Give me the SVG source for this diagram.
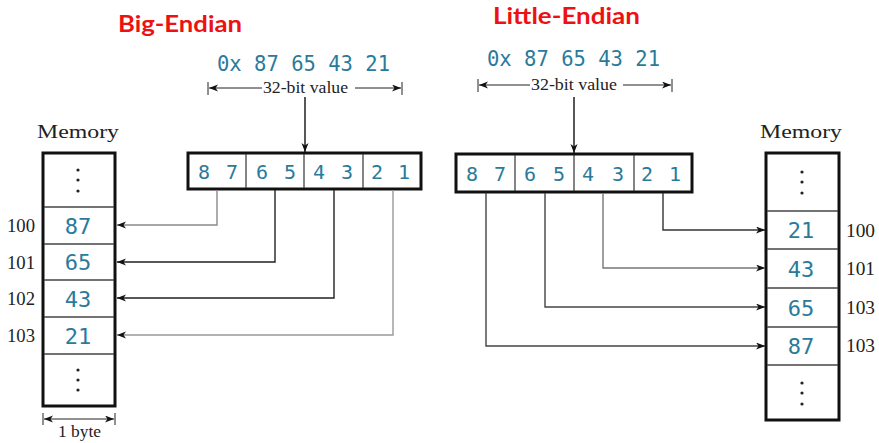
<svg xmlns="http://www.w3.org/2000/svg" width="879" height="443" viewBox="0 0 879 443">
<style>
.title{font-family:Lato,"Liberation Sans",sans-serif;font-weight:bold;font-size:23.5px;fill:#ee1111}
.mono{font-family:"DejaVu Sans Mono","Liberation Mono",monospace;fill:#2a7b9b}
.hex{font-size:20.5px}
.dig{font-size:20px;text-anchor:middle}
.val{font-size:22px;text-anchor:middle}
.serif{font-family:"Liberation Serif","DejaVu Serif",serif;fill:#222}
.frame{fill:#fff;stroke:#111;stroke-width:3}
.div{stroke:#333;stroke-width:1.2}
.row{stroke:#444;stroke-width:1.4}
.dot{fill:#222}
.conn{fill:none;stroke-width:1.4}
.dim{stroke:#222;stroke-width:1}
</style>
<defs>
<marker id="ah" markerUnits="userSpaceOnUse" markerWidth="10" markerHeight="8" refX="9" refY="3.5" orient="auto">
<path d="M0,0 L9,3.5 L0,7 L2.5,3.5 z" fill="#111"/>
</marker>
</defs>

<text class="title" x="118" y="32" textLength="124" lengthAdjust="spacingAndGlyphs">Big-Endian</text>
<text class="title" x="493" y="24" textLength="147" lengthAdjust="spacingAndGlyphs">Little-Endian</text>

<g id="value-left">
<text class="mono hex" x="217" y="71" textLength="173" lengthAdjust="spacingAndGlyphs">0x 87 65 43 21</text>
<line class="dim" x1="208" y1="82" x2="208" y2="95"/>
<line class="dim" x1="402" y1="82" x2="402" y2="95"/>
<line class="dim" x1="262" y1="88" x2="209" y2="88" marker-end="url(#ah)"/>
<line class="dim" x1="355" y1="88" x2="401" y2="88" marker-end="url(#ah)"/>
<text class="serif" x="263" y="93" font-size="16.5" textLength="85" lengthAdjust="spacingAndGlyphs">32-bit value</text>
</g>

<g id="value-right">
<text class="mono hex" x="487" y="66" textLength="173" lengthAdjust="spacingAndGlyphs">0x 87 65 43 21</text>
<line class="dim" x1="478" y1="79" x2="478" y2="92"/>
<line class="dim" x1="672" y1="79" x2="672" y2="92"/>
<line class="dim" x1="530" y1="85" x2="479" y2="85" marker-end="url(#ah)"/>
<line class="dim" x1="623" y1="85" x2="671" y2="85" marker-end="url(#ah)"/>
<text class="serif" x="531" y="90" font-size="16.5" textLength="86" lengthAdjust="spacingAndGlyphs">32-bit value</text>
</g>

<g id="register-left">
<rect class="frame" x="188" y="153" width="233" height="36"/>
<line class="div" x1="246" y1="154" x2="246" y2="188"/>
<line class="div" x1="304" y1="154" x2="304" y2="188"/>
<line class="div" x1="363" y1="154" x2="363" y2="188"/>
<text class="mono dig" x="204" y="179">8</text>
<text class="mono dig" x="232" y="179">7</text>
<text class="mono dig" x="262" y="179">6</text>
<text class="mono dig" x="290" y="179">5</text>
<text class="mono dig" x="319" y="179">4</text>
<text class="mono dig" x="347" y="179">3</text>
<text class="mono dig" x="377" y="179">2</text>
<text class="mono dig" x="404" y="179">1</text>
</g>

<g id="register-right">
<rect class="frame" x="456" y="154" width="236" height="38"/>
<line class="div" x1="515" y1="155" x2="515" y2="191"/>
<line class="div" x1="574" y1="155" x2="574" y2="191"/>
<line class="div" x1="634" y1="155" x2="634" y2="191"/>
<text class="mono dig" x="472" y="181">8</text>
<text class="mono dig" x="500" y="181">7</text>
<text class="mono dig" x="530" y="181">6</text>
<text class="mono dig" x="559" y="181">5</text>
<text class="mono dig" x="588" y="181">4</text>
<text class="mono dig" x="618" y="181">3</text>
<text class="mono dig" x="647" y="181">2</text>
<text class="mono dig" x="675" y="181">1</text>
</g>

<g id="memory-left">
<text class="serif" x="37" y="138" font-size="19" textLength="82" lengthAdjust="spacingAndGlyphs">Memory</text>
<rect class="frame" x="43" y="153" width="72" height="253"/>
<line class="row" x1="44" y1="207" x2="114" y2="207"/>
<line class="row" x1="44" y1="244" x2="114" y2="244"/>
<line class="row" x1="44" y1="280" x2="114" y2="280"/>
<line class="row" x1="44" y1="317" x2="114" y2="317"/>
<line class="row" x1="44" y1="354" x2="114" y2="354"/>
<circle class="dot" cx="78" cy="170" r="1.6"/>
<circle class="dot" cx="78" cy="180" r="1.6"/>
<circle class="dot" cx="78" cy="191" r="1.6"/>
<circle class="dot" cx="78" cy="370" r="1.6"/>
<circle class="dot" cx="78" cy="380" r="1.6"/>
<circle class="dot" cx="78" cy="390" r="1.6"/>
<text class="mono val" x="78" y="234">87</text>
<text class="mono val" x="78" y="270">65</text>
<text class="mono val" x="78" y="307">43</text>
<text class="mono val" x="78" y="344">21</text>
<text class="serif" x="7" y="232" font-size="18" textLength="28" lengthAdjust="spacingAndGlyphs">100</text>
<text class="serif" x="7" y="269" font-size="18" textLength="28" lengthAdjust="spacingAndGlyphs">101</text>
<text class="serif" x="7" y="305" font-size="18" textLength="28" lengthAdjust="spacingAndGlyphs">102</text>
<text class="serif" x="7" y="342" font-size="18" textLength="28" lengthAdjust="spacingAndGlyphs">103</text>
<line class="dim" x1="43" y1="413" x2="43" y2="425"/>
<line class="dim" x1="115" y1="413" x2="115" y2="425"/>
<line class="dim" x1="79" y1="419" x2="44" y2="419" marker-end="url(#ah)"/>
<line class="dim" x1="79" y1="419" x2="114" y2="419" marker-end="url(#ah)"/>
<text class="serif" x="58" y="437" font-size="16" textLength="43" lengthAdjust="spacingAndGlyphs">1 byte</text>
</g>

<g id="memory-right">
<text class="serif" x="760" y="138" font-size="19" textLength="82" lengthAdjust="spacingAndGlyphs">Memory</text>
<rect class="frame" x="766" y="153" width="73" height="267"/>
<line class="row" x1="767" y1="211" x2="838" y2="211"/>
<line class="row" x1="767" y1="249" x2="838" y2="249"/>
<line class="row" x1="767" y1="288" x2="838" y2="288"/>
<line class="row" x1="767" y1="327" x2="838" y2="327"/>
<line class="row" x1="767" y1="365" x2="838" y2="365"/>
<circle class="dot" cx="802" cy="172" r="1.6"/>
<circle class="dot" cx="802" cy="182" r="1.6"/>
<circle class="dot" cx="802" cy="193" r="1.6"/>
<circle class="dot" cx="802" cy="383" r="1.6"/>
<circle class="dot" cx="802" cy="393" r="1.6"/>
<circle class="dot" cx="802" cy="404" r="1.6"/>
<text class="mono val" x="801" y="238">21</text>
<text class="mono val" x="801" y="277">43</text>
<text class="mono val" x="801" y="316">65</text>
<text class="mono val" x="801" y="354">87</text>
<text class="serif" x="846" y="237" font-size="18" textLength="29" lengthAdjust="spacingAndGlyphs">100</text>
<text class="serif" x="846" y="275" font-size="18" textLength="29" lengthAdjust="spacingAndGlyphs">101</text>
<text class="serif" x="846" y="314" font-size="18" textLength="29" lengthAdjust="spacingAndGlyphs">103</text>
<text class="serif" x="846" y="352" font-size="18" textLength="29" lengthAdjust="spacingAndGlyphs">103</text>
</g>

<g id="connectors">
<line class="conn" x1="305" y1="97" x2="305" y2="152" stroke="#111" marker-end="url(#ah)"/>
<line class="conn" x1="574" y1="97" x2="574" y2="153" stroke="#111" marker-end="url(#ah)"/>
<polyline class="conn" points="217,190 217,225 117,225" stroke="#8a8a8a" marker-end="url(#ah)"/>
<polyline class="conn" points="275,190 275,262 117,262" stroke="#222" marker-end="url(#ah)"/>
<polyline class="conn" points="334,190 334,298 117,298" stroke="#222" marker-end="url(#ah)"/>
<polyline class="conn" points="393,190 393,335 117,335" stroke="#999" marker-end="url(#ah)"/>
<polyline class="conn" points="663,193 663,230 765,230" stroke="#333" marker-end="url(#ah)"/>
<polyline class="conn" points="603,193 603,268 765,268" stroke="#777" marker-end="url(#ah)"/>
<polyline class="conn" points="545,193 545,307 765,307" stroke="#444" marker-end="url(#ah)"/>
<polyline class="conn" points="486,193 486,346 765,346" stroke="#444" marker-end="url(#ah)"/>
</g>
</svg>
